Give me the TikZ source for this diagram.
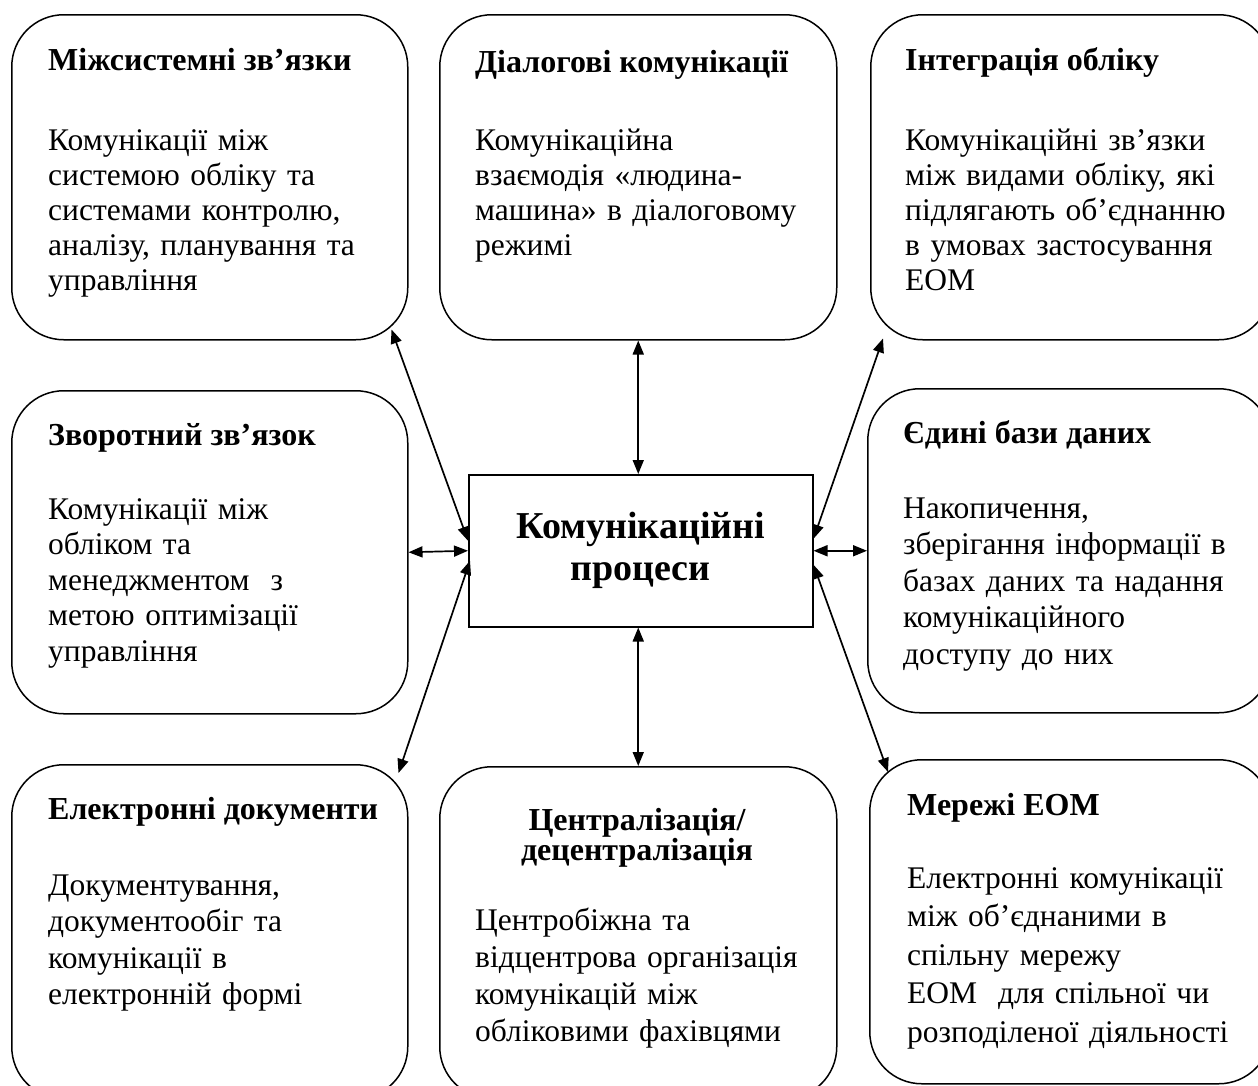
\documentclass[tikz,border=0pt]{standalone}
\usepackage{fontspec}
\setmainfont{Liberation Serif}
\usetikzlibrary{arrows.meta,calc}
\begin{document}
\begin{tikzpicture}[x=1pt,y=-1pt,
  box/.style={draw, line width=1.5pt, rounded corners=52pt, anchor=north west, inner sep=0pt},
  ttl/.style={anchor=base west, inner sep=0pt, font=\bfseries\fontsize{32}{28}\selectfont},
  body/.style={anchor=base west, inner sep=0pt, text width=380pt, align=left, font=\fontsize{31.5}{#1}\selectfont},
  arr/.style={{Triangle[length=14pt,width=11pt]}-{Triangle[length=14pt,width=11pt]}, line width=1.7pt}]
\useasboundingbox (0,0) rectangle (1258,1085);
\clip (0,0) rectangle (1258,1085);
% boxes
\node[box, minimum width=396pt, minimum height=325pt] (tl) at (11,14) {};
\node[box, minimum width=397pt, minimum height=325pt] (tm) at (439,14) {};
\node[box, minimum width=400pt, minimum height=325pt] (tr) at (870,14) {};
\node[box, minimum width=396pt, minimum height=323pt] (ml) at (11,390) {};
\node[box, minimum width=403pt, minimum height=324pt] (mr) at (867,388) {};
\node[box, minimum width=396pt, minimum height=334pt] (bl) at (11,764) {};
\node[box, minimum width=397pt, minimum height=332pt] (bm) at (439,766) {};
\node[box, minimum width=401pt, minimum height=324pt] (br) at (869,759) {};
\node[draw, line width=1.5pt, anchor=north west, minimum width=344pt, minimum height=152pt,
  align=center, font=\bfseries\fontsize{38}{42}\selectfont] (cen) at (468,474)
  {Комунікаційні\\процеси};
% texts
\node[ttl] (tlt) at (48,70) {Міжсистемні зв’язки};
\node[body=35pt] (tlb) at (48,150) {Комунікації між\\системою обліку та\\системами контролю,\\аналізу, планування та\\управління};
\node[ttl] (tmt) at (475,72) {Діалогові комунікації};
\node[body=35pt] (tmb) at (475,150) {Комунікаційна\\взаємодія «людина-\\машина» в діалоговому\\режимі};
\node[ttl] (trt) at (905,70) {Інтеграція обліку};
\node[body=35pt] (trb) at (905,150) {Комунікаційні зв’язки\\між видами обліку, які\\підлягають об’єднанню\\в умовах застосування\\ЕОМ};
\node[ttl] (mlt) at (48,445) {Зворотний зв’язок};
\node[body=35.5pt] (mlb) at (48,519) {Комунікації між\\обліком та\\менеджментом\ \ з\\метою оптимізації\\управління};
\node[ttl] (mrt) at (903,443) {Єдині бази даних};
\node[body=36.5pt] (mrb) at (903,518) {Накопичення,\\зберігання інформації в\\базах даних та надання\\комунікаційного\\доступу до них};
\node[ttl] (blt) at (48,819) {Електронні документи};
\node[body=36.5pt] (blb) at (48,895) {Документування,\\документообіг та\\комунікації в\\електронній формі};
\node[ttl, anchor=base, text width=380pt, align=center] (bmt) at (637,830) {Централізація/\\децентралізація};
\node[body=37pt] (bmb) at (475,930) {Центробіжна та\\відцентрова організація\\комунікацій між\\обліковими фахівцями};
\node[ttl] (brt) at (907,815) {Мережі ЕОМ};
\node[body=38.5pt] (brb) at (907,888) {Електронні комунікації\\між об’єднаними в\\спільну мережу\\ЕОМ\ \ для спільної чи\\розподіленої діяльності};
% connectors
\draw[arr] ([shift={(-17,-11)}]tl.south east) -- ([shift={(0,-10)}]cen.west);
\draw[arr] (ml.east) -- (cen.west);
\draw[arr] ([shift={(2,10)}]cen.west) -- ([shift={(-10,9)}]bl.north east);
\draw[arr] (tm.south) -- (tm.south |- cen.north);
\draw[arr] (bm.north |- cen.south) -- (bm.north);
\draw[arr] ([shift={(0,-12)}]cen.east) -- ([shift={(13,-2)}]tr.south west);
\draw[arr] (cen.east) -- (mr.west);
\draw[arr] ([shift={(0,14)}]cen.east) -- ([shift={(19,13)}]br.north west);
\end{tikzpicture}
\end{document}
